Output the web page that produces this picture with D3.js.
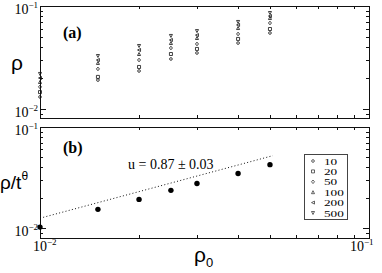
<!DOCTYPE html>
<html><head><meta charset="utf-8">
<script src="https://cdn.jsdelivr.net/npm/d3@7"></script>
<style>html,body{margin:0;padding:0;background:#fff;}svg{display:block;}</style>
</head><body>
<svg id="c" width="382" height="273"></svg>
<script>
// ---- data ----
const rho0 = [0.01, 0.015, 0.02, 0.025, 0.03, 0.04, 0.05];
const times = ["10", "20", "50", "100", "200", "500"];
const rhoT10  = [0.0131, 0.0191, 0.0234, 0.0306, 0.0350, 0.0437, 0.0547];
const rhoT20  = [0.0146, 0.0205, 0.0256, 0.0342, 0.0383, 0.0479, 0.0598];
const rhoT50  = [0.0164, 0.0245, 0.0299, 0.0391, 0.0428, 0.0535, 0.0684];
const rhoT100 = [0.0183, 0.0280, 0.0342, 0.0437, 0.0489, 0.0611, 0.0764];
const rhoT200 = [0.0200, 0.0299, 0.0374, 0.0468, 0.0522, 0.0655, 0.0799];
const rhoT500 = [0.0219, 0.0327, 0.0409, 0.0512, 0.0571, 0.0700, 0.0855];
const scaled  = [0.0102, 0.0153, 0.0192, 0.0236, 0.0276, 0.0346, 0.0424];
const fitX = [0.01, 0.051];
const fitY = [0.0125, 0.052];
const fitLabel = "u = 0.87 \u00b1 0.03";
const series = [rhoT10, rhoT20, rhoT50, rhoT100, rhoT200, rhoT500];
const symbolNames = ["circle", "square", "diamond", "up", "left", "down"];

// ---- layout ----
const svg = d3.select("#c");
const L = 40, R = 369;
const x = d3.scaleLog().domain([0.01, 0.1]).range([L, R]);
const panels = [
  {top: 6, bottom: 118, y: d3.scaleLog().domain([0.00818, 0.1]).range([118, 6]), tag: "(a)"},
  {top: 127, bottom: 238, y: d3.scaleLog().domain([0.00796, 0.1]).range([238, 127]), tag: "(b)"}
];

function symPath(type, s) {
  const h = s / 2;
  switch (type) {
    case "circle": return d3.symbol(d3.symbolCircle, Math.PI * h * h * 0.8)();
    case "square": return `M${-h},${-h}H${h}V${h}H${-h}Z`;
    case "diamond": return `M0,${-h*1.2}L${h},0L0,${h*1.2}L${-h},0Z`;
    case "up": return `M0,${-h}L${h},${h}L${-h},${h}Z`;
    case "down": return `M0,${h}L${h},${-h}L${-h},${-h}Z`;
    case "left": return `M${-h},0L${h},${-h}L${h},${h}Z`;
  }
}

const serif = "'Liberation Serif','Times New Roman',serif";
const sans = "'Liberation Sans',Arial,sans-serif";

panels.forEach((p, pi) => {
  const g = svg.append("g");
  const y = p.y;
  g.append("rect").attr("x", L + 0.5).attr("y", p.top + 0.5)
    .attr("width", R - L).attr("height", p.bottom - p.top)
    .attr("fill", "none").attr("stroke", "#111").attr("stroke-width", 1);
  const xt = x.ticks();
  xt.forEach(v => {
    const major = Math.abs(Math.log10(v) - Math.round(Math.log10(v))) < 1e-9;
    const len = major ? 6 : 3;
    const xx = Math.round(x(v)) + 0.5;
    g.append("line").attr("x1", xx).attr("x2", xx).attr("y1", p.bottom).attr("y2", p.bottom - len).attr("stroke", "#111");
    g.append("line").attr("x1", xx).attr("x2", xx).attr("y1", p.top).attr("y2", p.top + len).attr("stroke", "#111");
  });
  const yt = y.ticks().filter(v => y(v) >= p.top - 0.5 && y(v) <= p.bottom - 1);
  yt.forEach(v => {
    const major = Math.abs(Math.log10(v) - Math.round(Math.log10(v))) < 1e-9;
    const len = major ? 6 : 3;
    const yy = Math.round(y(v)) + 0.5;
    g.append("line").attr("x1", L).attr("x2", L + len).attr("y1", yy).attr("y2", yy).attr("stroke", "#111");
    g.append("line").attr("x1", R).attr("x2", R - len).attr("y1", yy).attr("y2", yy).attr("stroke", "#111");
    if (major) {
      const e = Math.round(Math.log10(v));
      const t = g.append("text").attr("x", 38).attr("y", y(v) + 8)
        .attr("text-anchor", "end").attr("font-family", serif).attr("font-size", 14).attr("fill", "#000");
      t.append("tspan").text("10");
      t.append("tspan").attr("dy", -6).attr("font-size", 9).text("\u2212" + Math.abs(e));
    }
  });
  g.append("text").attr("x", 63).attr("y", p.top + 32 - (pi ? 6 : 0)).attr("font-family", serif)
    .attr("font-size", 16).attr("font-weight", "bold").text(p.tag);
});

// panel (a) markers
const ya = panels[0].y;
series.forEach((s, si) => {
  svg.append("g").selectAll("path").data(s).join("path")
    .attr("transform", (d, i) => `translate(${x(rho0[i])},${ya(d)})`)
    .attr("d", symPath(symbolNames[si], 3))
    .attr("fill", "none").attr("stroke", "#111").attr("stroke-width", 0.8);
});

// panel (b)
const yb = panels[1].y;
svg.append("path")
  .attr("d", d3.line().x(d => x(d[0])).y(d => yb(d[1]))(fitX.map((v, i) => [v, fitY[i]])))
  .attr("fill", "none").attr("stroke", "#111").attr("stroke-width", 1).attr("stroke-dasharray", "1,2.3");
svg.append("g").selectAll("circle").data(scaled).join("circle")
  .attr("cx", (d, i) => x(rho0[i])).attr("cy", d => yb(d)).attr("r", 2.7).attr("fill", "#000");
svg.append("text").attr("x", 128).attr("y", 169).attr("font-family", serif).attr("font-size", 14).text(fitLabel);

// legend
const lg = svg.append("g");
lg.append("rect").attr("x", 304.5).attr("y", 154.5).attr("width", 43).attr("height", 65)
  .attr("fill", "#fff").attr("stroke", "#444").attr("stroke-width", 1);
times.forEach((t, i) => {
  const yy = 161 + i * 10.4;
  lg.append("path").attr("transform", `translate(313,${yy})`).attr("d", symPath(symbolNames[i], 3))
    .attr("fill", "none").attr("stroke", "#222").attr("stroke-width", 0.7);
  lg.append("text").attr("x", 324).attr("y", yy + 3.5).attr("font-family", serif).attr("font-size", 9)
    .attr("textLength", t.length * 6.6).attr("lengthAdjust", "spacingAndGlyphs").text(t);
});

// x tick labels
x.ticks().filter(v => Math.abs(Math.log10(v) - Math.round(Math.log10(v))) < 1e-9).forEach(v => {
  const e = Math.round(Math.log10(v));
  let cx = Math.min(x(v), 357);
  const t = svg.append("text").attr("x", cx - 7).attr("y", 251).attr("font-family", serif).attr("font-size", 14);
  t.append("tspan").text("10");
  t.append("tspan").attr("dy", -6).attr("font-size", 9).text("\u2212" + Math.abs(e));
});

// axis titles
svg.append("text").attr("x", 11).attr("y", 70).attr("font-family", sans).attr("font-size", 21).text("\u03c1");
const yl = svg.append("text").attr("x", 0).attr("y", 189).attr("font-family", sans).attr("font-size", 19);
yl.append("tspan").text("\u03c1/t");
yl.append("tspan").attr("dy", -9).attr("font-size", 12).text("\u03b8");
const xl = svg.append("text").attr("x", 194).attr("y", 262).attr("font-family", sans).attr("font-size", 21);
xl.append("tspan").text("\u03c1");
xl.append("tspan").attr("dy", 5).attr("font-size", 13).text("0");
</script>
</body></html>
